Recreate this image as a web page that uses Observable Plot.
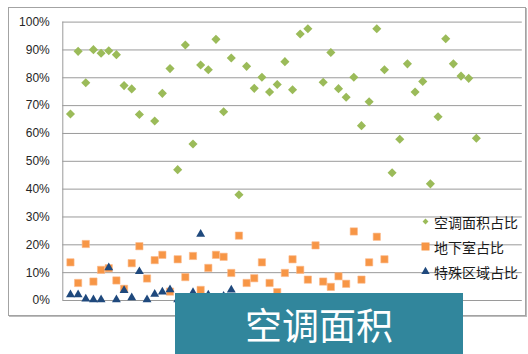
<!DOCTYPE html>
<html>
<head>
<meta charset="utf-8">
<script src="https://cdn.jsdelivr.net/npm/d3@7"></script>
<script src="https://cdn.jsdelivr.net/npm/@observablehq/plot@0.6"></script>
<style>
  html, body { margin: 0; padding: 0; background: #fff; }
  #wrap { position: relative; width: 528px; height: 354px; overflow: hidden; }
  #wrap svg { position: absolute; left: 0; top: 0; }
  #frame {
    position: absolute; left: 8px; top: 7px; width: 516px; height: 307px;
    border: 1px solid #a3a3a3; box-shadow: 1px 1px 0 #bdbdbd; pointer-events: none;
  }
  #legend {
    position: absolute; left: 419px; top: 209px;
    font-family: "Noto Sans CJK SC", sans-serif; font-size: 14px; color: #1a1a1a;
  }
  #legend .row { display: flex; align-items: center; height: 25px; }
  #legend svg { position: static; display: block; margin-right: 2px; }
  #banner {
    position: absolute; left: 175px; top: 293px; width: 288px; height: 61px;
    background: #31869c; color: #fff;
    font-family: "Noto Sans CJK SC", sans-serif; font-size: 37px;
    display: flex; align-items: center; justify-content: center;
  }
</style>
</head>
<body>
<div id="wrap"></div>
<script>
// Share of floor area per project (percent), projects numbered 1..n
const acShare = [
  67.0, 89.5, 78.2, 90.1, 88.8, 89.7, 88.3, 77.2, 76.0, 66.8,
  null, 64.5, 74.4, 83.3, 47.0, 91.8, 56.2, 84.6, 82.9, 93.8,
  67.8, 87.1, 38.0, 84.1, 76.2, 80.2, 74.9, 77.6, 85.8, 75.7,
  95.7, 97.6, null, 78.4, 89.1, 76.1, 73.0, 80.2, 62.8, 71.4,
  97.6, 82.9, 45.9, 57.9, 85.0, 74.9, 78.7, 41.9, 66.0, 94.0,
  85.0, 80.6, 79.8, 58.3
];
const basementShare = [
  13.7, 6.3, 20.3, 6.8, 11.0, 11.6, 7.2, 4.2, 13.4, 19.5,
  7.9, 14.5, 16.4, 3.2, 14.8, 8.4, 16.0, 3.8, 11.7, 16.4,
  15.7, 9.9, 23.3, 6.3, 8.0, 13.7, 6.3, 3.0, 9.9, 14.8,
  11.0, 7.5, 19.8, 6.8, 4.9, 8.7, 6.0, 24.8, 7.5, 13.7,
  22.9, 14.8
];
const specialShare = [
  2.1, 2.1, 0.6, 0.3, 0.3, 11.8, 0.3, 3.6, 1.0, 10.4,
  0.3, 2.3, 3.1, 3.9, 0.3, 0.5, 2.9, 23.8, 2.0, 0.5,
  1.6, 3.8, 0.5, 0.2, 0.8, 0.4, 0.3, 0.6, 0.2, 0.5,
  0.7, 0.3, 0.4, 0.2, 0.6, 0.3, 0.5, 0.2, 0.4, 0.6,
  0.3, 0.5
];
const seriesNames = ["空调面积占比", "地下室占比", "特殊区域占比"];
const seriesColors = ["#9bbb59", "#f79646", "#1f497d"];
const seriesSymbols = ["diamond2", "square", "triangle"];
const yTicks = d3.range(0, 11).map(d => d / 10);
const bannerText = "空调面积";

const toRows = (arr) => arr
  .map((v, i) => ({idx: i + 1, v: v == null ? null : v / 100}))
  .filter(d => d.v != null);

const chart = Plot.plot({
  width: 528,
  height: 354,
  marginLeft: 62.3,
  marginRight: 6.2,
  marginTop: 21.6,
  marginBottom: 54,
  style: {fontFamily: "'Liberation Sans', Arial, sans-serif", fontSize: "12px", color: "#262626", background: "transparent"},
  x: {domain: [0, 60], axis: null},
  y: {domain: [0, 1], ticks: yTicks, tickFormat: d3.format(".0%"), label: null, tickSize: 0, tickPadding: 13},
  marks: [
    Plot.gridY(yTicks, {stroke: "#9a9a9a", strokeOpacity: 1}),
    Plot.ruleX([0], {stroke: "#9a9a9a"}),
    Plot.dot(toRows(acShare), {x: "idx", y: "v", symbol: seriesSymbols[0], r: 4.1, fill: seriesColors[0], stroke: "none"}),
    Plot.dot(toRows(basementShare), {x: "idx", y: "v", symbol: seriesSymbols[1], r: 4.1, fill: seriesColors[1], stroke: "#fbb98a", strokeWidth: 0.6}),
    Plot.dot(toRows(specialShare), {x: "idx", y: "v", symbol: seriesSymbols[2], r: 3.3, fill: seriesColors[2], stroke: "none"})
  ]
});

const wrap = document.getElementById("wrap");
wrap.appendChild(chart);

const frame = document.createElement("div");
frame.id = "frame";
wrap.appendChild(frame);

// Legend
const legend = document.createElement("div");
legend.id = "legend";
const symbolMap = {diamond2: d3.symbolDiamond2, square: d3.symbolSquare, triangle: d3.symbolTriangle};
const legendSizes = [22, 64, 30];
seriesNames.forEach((name, i) => {
  const row = document.createElement("div");
  row.className = "row";
  const s = d3.create("svg").attr("width", 13).attr("height", 13);
  s.append("path")
    .attr("transform", "translate(6.5,6.5)")
    .attr("d", d3.symbol(symbolMap[seriesSymbols[i]], legendSizes[i])())
    .attr("fill", seriesColors[i]);
  row.appendChild(s.node());
  const t = document.createElement("span");
  t.textContent = name;
  row.appendChild(t);
  legend.appendChild(row);
});
wrap.appendChild(legend);

const banner = document.createElement("div");
banner.id = "banner";
banner.textContent = bannerText;
wrap.appendChild(banner);
</script>
</body>
</html>
